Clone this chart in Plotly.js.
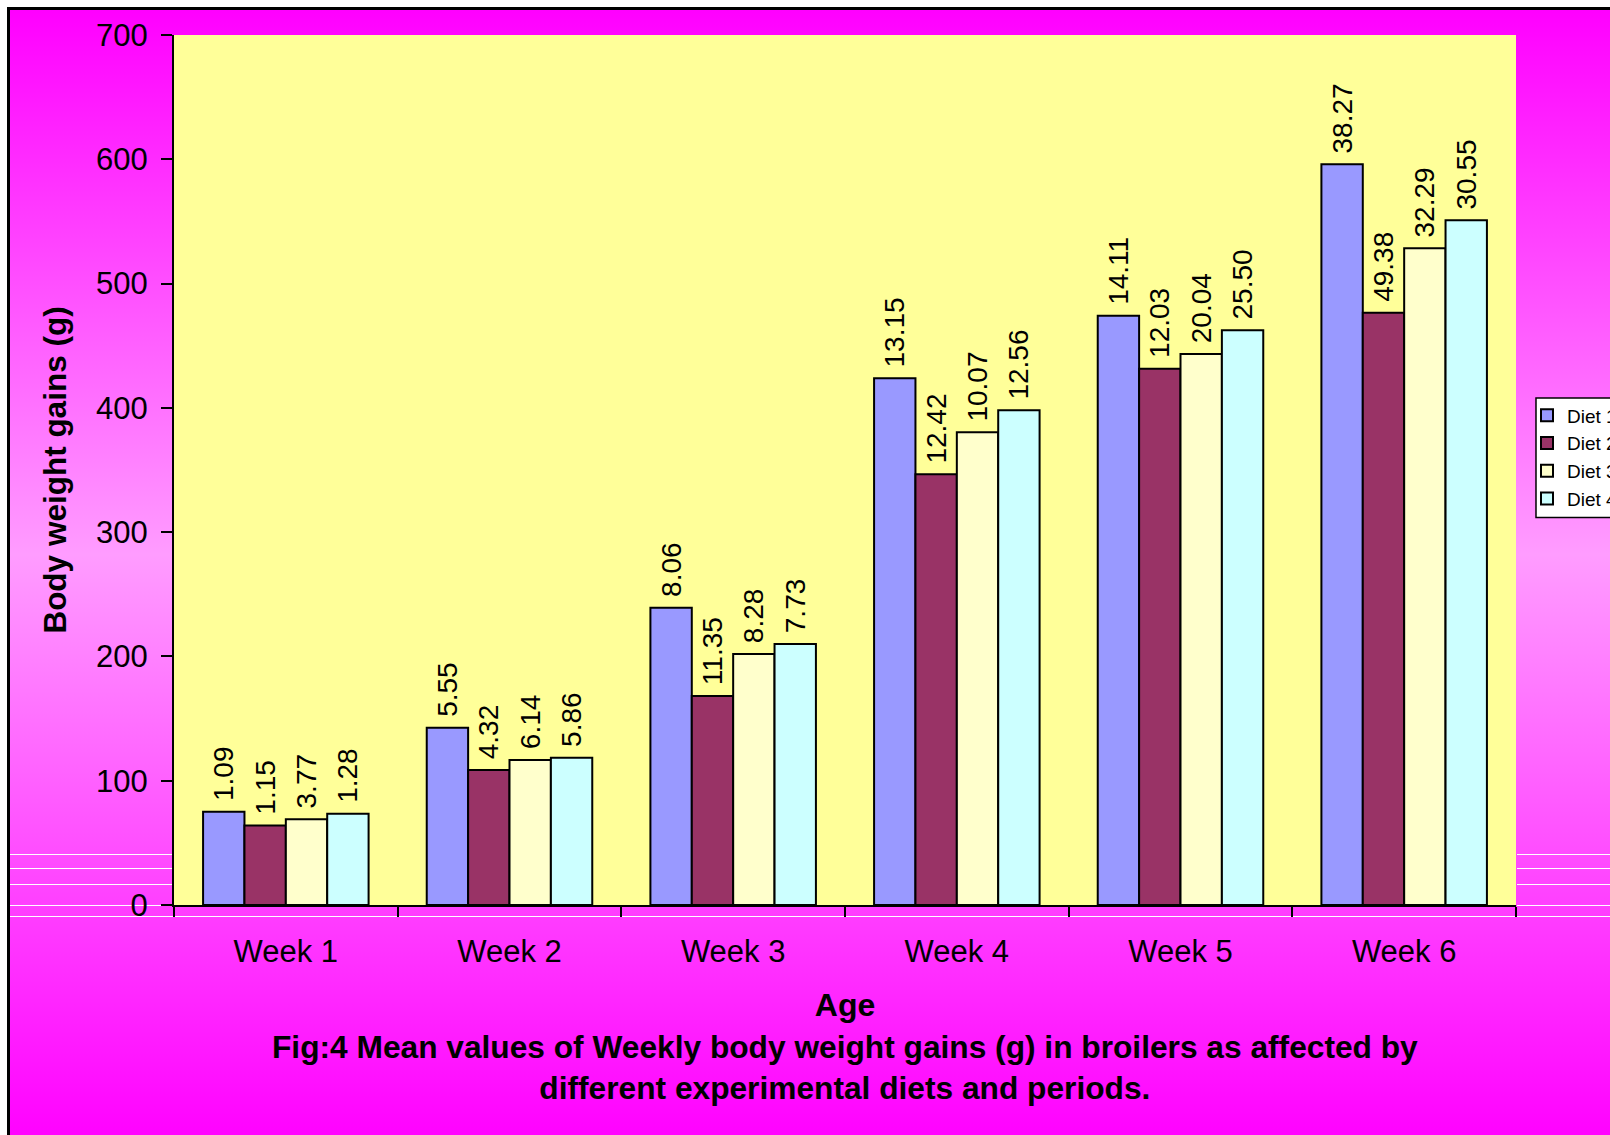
<!DOCTYPE html>
<html>
<head>
<meta charset="utf-8">
<script src="https://cdn.plot.ly/plotly-3.0.1.min.js"></script>
<style>
  html, body { margin: 0; padding: 0; width: 1610px; height: 1135px; overflow: hidden; background: #ffffff; }
  #frame { position: absolute; left: 7px; top: 7px; width: 1700px; height: 1140px;
           border: 3px solid #000; box-sizing: border-box;
           background: linear-gradient(to bottom, #ff00ff 0%, #ff9cff 48%, #ff00ff 100%); }
  .wl { position: absolute; height: 1px; background: #ffffff; }
  #chart { position: absolute; left: 0; top: 0; width: 1610px; height: 1135px; }
</style>
</head>
<body>
<div id="frame"></div>
<div class="wl" style="left:10px; width:164px; top:854px;"></div>
<div class="wl" style="left:10px; width:164px; top:868px;"></div>
<div class="wl" style="left:10px; width:164px; top:884px;"></div>
<div class="wl" style="left:10px; width:164px; top:905px;"></div>
<div class="wl" style="left:1517px; width:93px; top:854px;"></div>
<div class="wl" style="left:1517px; width:93px; top:868px;"></div>
<div class="wl" style="left:1517px; width:93px; top:884px;"></div>
<div class="wl" style="left:1517px; width:93px; top:905px;"></div>
<div class="wl" style="left:10px; width:1600px; top:916px;"></div>
<div id="chart"></div>
<script>
// ---- data ----
const weeks = ["Week 1", "Week 2", "Week 3", "Week 4", "Week 5", "Week 6"];
const seriesNames = ["Diet 1", "Diet 2", "Diet 3", "Diet 4"];

const diet1 = [75, 142.7, 239.2, 423.8, 474.2, 596];
const diet2 = [64, 108.6, 168.2, 346.5, 431.5, 476.6];
const diet3 = [69, 116.7, 202, 380.3, 443.3, 528.4];
const diet4 = [73.5, 118.5, 210, 398, 462.4, 550.9];

const diet1Labels = ["1.09", "5.55", "8.06", "13.15", "14.11", "38.27"];
const diet2Labels = ["1.15", "4.32", "11.35", "12.42", "12.03", "49.38"];
const diet3Labels = ["3.77", "6.14", "8.28", "10.07", "20.04", "32.29"];
const diet4Labels = ["1.28", "5.86", "7.73", "12.56", "25.50", "30.55"];

const yTickVals = [0, 100, 200, 300, 400, 500, 600, 700];

const values = [diet1, diet2, diet3, diet4];
const labels = [diet1Labels, diet2Labels, diet3Labels, diet4Labels];
const colors = ["#9999ff", "#993366", "#ffffcc", "#ccffff"];

const FONT = "Arial, 'Liberation Sans', Helvetica, sans-serif";

const traces = seriesNames.map((name, i) => ({
  type: "bar",
  name: name,
  x: weeks,
  y: values[i],
  text: labels[i].map(t => "\u00a0" + t),
  textposition: "outside",
  textangle: -90,
  constraintext: "none",
  cliponaxis: false,
  textfont: { family: FONT, size: 28, color: "#000" },
  marker: { color: colors[i], line: { color: "#000", width: 2 } },
  hoverinfo: "x+y+name"
}));

const layout = {
  width: 1610,
  height: 1135,
  paper_bgcolor: "rgba(0,0,0,0)",
  plot_bgcolor: "#ffff99",
  margin: { l: 174, r: 94, t: 35, b: 230, autoexpand: false },
  barmode: "group",
  bargap: 0.26,
  bargroupgap: 0,
  font: { family: FONT, color: "#000" },
  showlegend: true,
  legend: {
    x: 1.0082, xanchor: "left",
    y: 0.515, yanchor: "middle",
    bgcolor: "rgba(0,0,0,0)",
    borderwidth: 0,
    font: { family: FONT, size: 19, color: "#000" },
    tracegroupgap: 0,
    itemwidth: 30
  },
  shapes: [
    {
      type: "rect", xref: "paper", yref: "paper", layer: "above",
      x0: 1.0149, x1: 1.2, y0: 0.4454, y1: 0.5828,
      fillcolor: "#ffffff", line: { color: "#000", width: 1.5 }
    }
  ],
  xaxis: {
    type: "category",
    showline: true, linecolor: "#000", linewidth: 2,
    ticks: "outside", tickson: "boundaries", ticklen: 10, tickwidth: 2, tickcolor: "#000",
    tickfont: { family: FONT, size: 31, color: "#000" },
    ticklabelstandoff: 18,
    showgrid: false, zeroline: false,
    title: { text: "<b>Age</b>", font: { family: FONT, size: 32, color: "#000" }, standoff: 25 }
  },
  yaxis: {
    range: [0, 700],
    tickvals: yTickVals,
    showline: true, linecolor: "#000", linewidth: 2,
    ticks: "outside", ticklen: 11, tickwidth: 2, tickcolor: "#000",
    tickfont: { family: FONT, size: 31, color: "#000" },
    ticklabelstandoff: 7,
    showgrid: false, zeroline: false,
    title: { text: "<b>Body weight gains (g)</b>", font: { family: FONT, size: 31.5, color: "#000" }, standoff: 20 }
  },
  annotations: [
    {
      xref: "paper", yref: "paper",
      x: 0.5, y: -0.140, xanchor: "center", yanchor: "top",
      showarrow: false, align: "center",
      text: "<b>Fig:4 Mean values of Weekly body weight gains (g) in broilers as affected by<br>different experimental diets and periods.</b>",
      font: { family: FONT, size: 31.7, color: "#000" }
    }
  ]
};

Plotly.newPlot("chart", traces, layout, { displayModeBar: false, staticPlot: true });
</script>
</body>
</html>
